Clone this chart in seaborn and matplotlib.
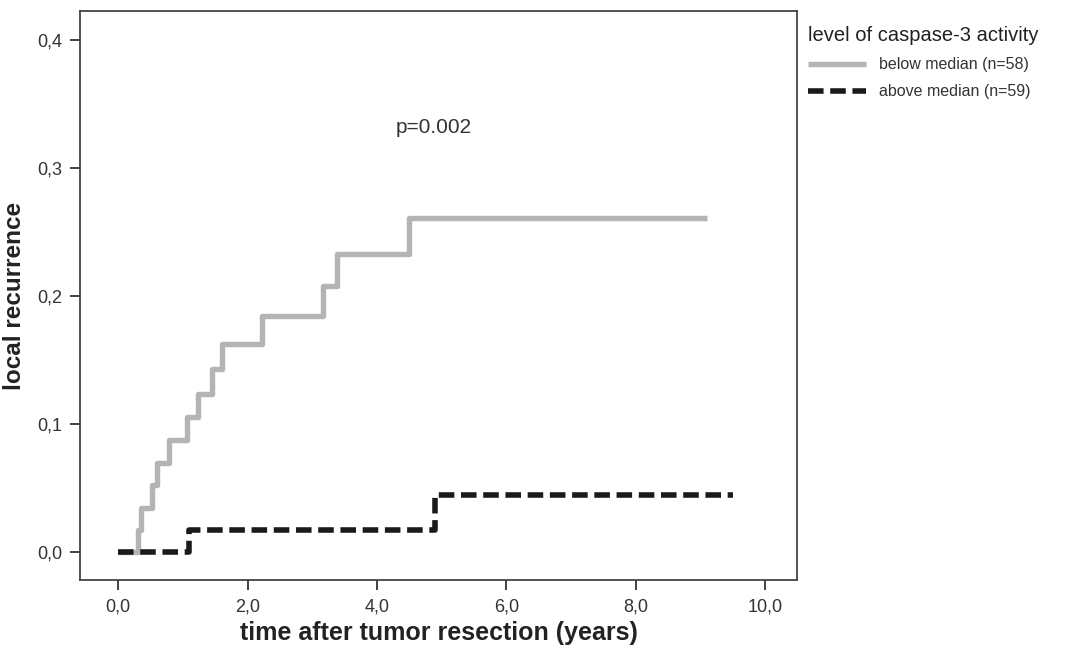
import matplotlib
matplotlib.use("Agg")
import matplotlib.pyplot as plt
import pandas as pd
import seaborn as sns

# cumulative local recurrence (Kaplan-Meier type step curves)
below_t = [0, 0.31, 0.36, 0.52, 0.60, 0.78, 1.06, 1.24, 1.45, 1.60, 2.22, 3.17, 3.38, 4.50, 9.10]
below_v = [0, 0.017, 0.034, 0.052, 0.069, 0.087, 0.105, 0.123, 0.143, 0.162, 0.184, 0.208, 0.233, 0.261, 0.261]
above_t = [0, 1.10, 4.90, 9.50]
above_v = [0, 0.017, 0.0445, 0.0445]

groups = ["below median (n=58)", "above median (n=59)"]
xticks = [0, 2, 4, 6, 8, 10]
xtick_labels = ["0,0", "2,0", "4,0", "6,0", "8,0", "10,0"]
yticks = [0.0, 0.1, 0.2, 0.3, 0.4]
ytick_labels = ["0,0", "0,1", "0,2", "0,3", "0,4"]

sns.set_style("white")
plt.rcParams['font.family'] = ['Liberation Sans', 'DejaVu Sans']

df_below = pd.DataFrame({'time': below_t, 'recurrence': below_v, 'group': groups[0]})
df_above = pd.DataFrame({'time': above_t, 'recurrence': above_v, 'group': groups[1]})

fig = plt.figure(figsize=(10.73, 6.5), dpi=100)
ax = fig.add_axes([80/1073, 70/650, 717/1073, 569/650])

sns.lineplot(ax=ax, data=df_below, x='time', y='recurrence', drawstyle='steps-post',
             color='#b4b4b4', linewidth=3.9, label=groups[0], solid_capstyle='butt')
sns.lineplot(ax=ax, data=df_above, x='time', y='recurrence', drawstyle='steps-post',
             color='#1a1a1a', linewidth=4.0, label=groups[1], dashes=False,
             linestyle=(0, (2.8, 1.2)), dash_capstyle='butt')

ax.set_xlim(-0.59, 10.49)
ax.set_ylim(-0.0221, 0.4227)
ax.set_xticks(xticks, xtick_labels)
ax.set_yticks(yticks, ytick_labels)
ax.tick_params(axis='both', direction='out', length=7, width=1.3, color='#333333',
               labelsize=13, labelcolor='#333333', bottom=True, left=True, pad=6)
for s in ax.spines.values():
    s.set_color('#444444')
    s.set_linewidth(1.3)

ax.set_xlabel("time after tumor resection (years)", fontsize=18, fontweight='bold',
              color='#222222', labelpad=4)
ax.set_ylabel("local recurrence", fontsize=17.5, fontweight='bold', color='#222222', labelpad=8)

ax.text(4.88, 0.332, "p=0.002", fontsize=15, color='#333333', ha='center', va='center')

handles, labels = ax.get_legend_handles_labels()
ax.get_legend().remove()
leg = fig.legend(handles, labels, loc='upper left', bbox_to_anchor=(802/1073, 1 - 20/650),
                 frameon=False, title="level of caspase-3 activity", title_fontsize=14.5,
                 fontsize=11.5, handlelength=3.6, alignment='left', borderaxespad=0,
                 labelspacing=0.75)
leg.get_title().set_color('#222222')
for t in leg.get_texts():
    t.set_color('#333333')

fig.savefig("out.png", dpi=100)
